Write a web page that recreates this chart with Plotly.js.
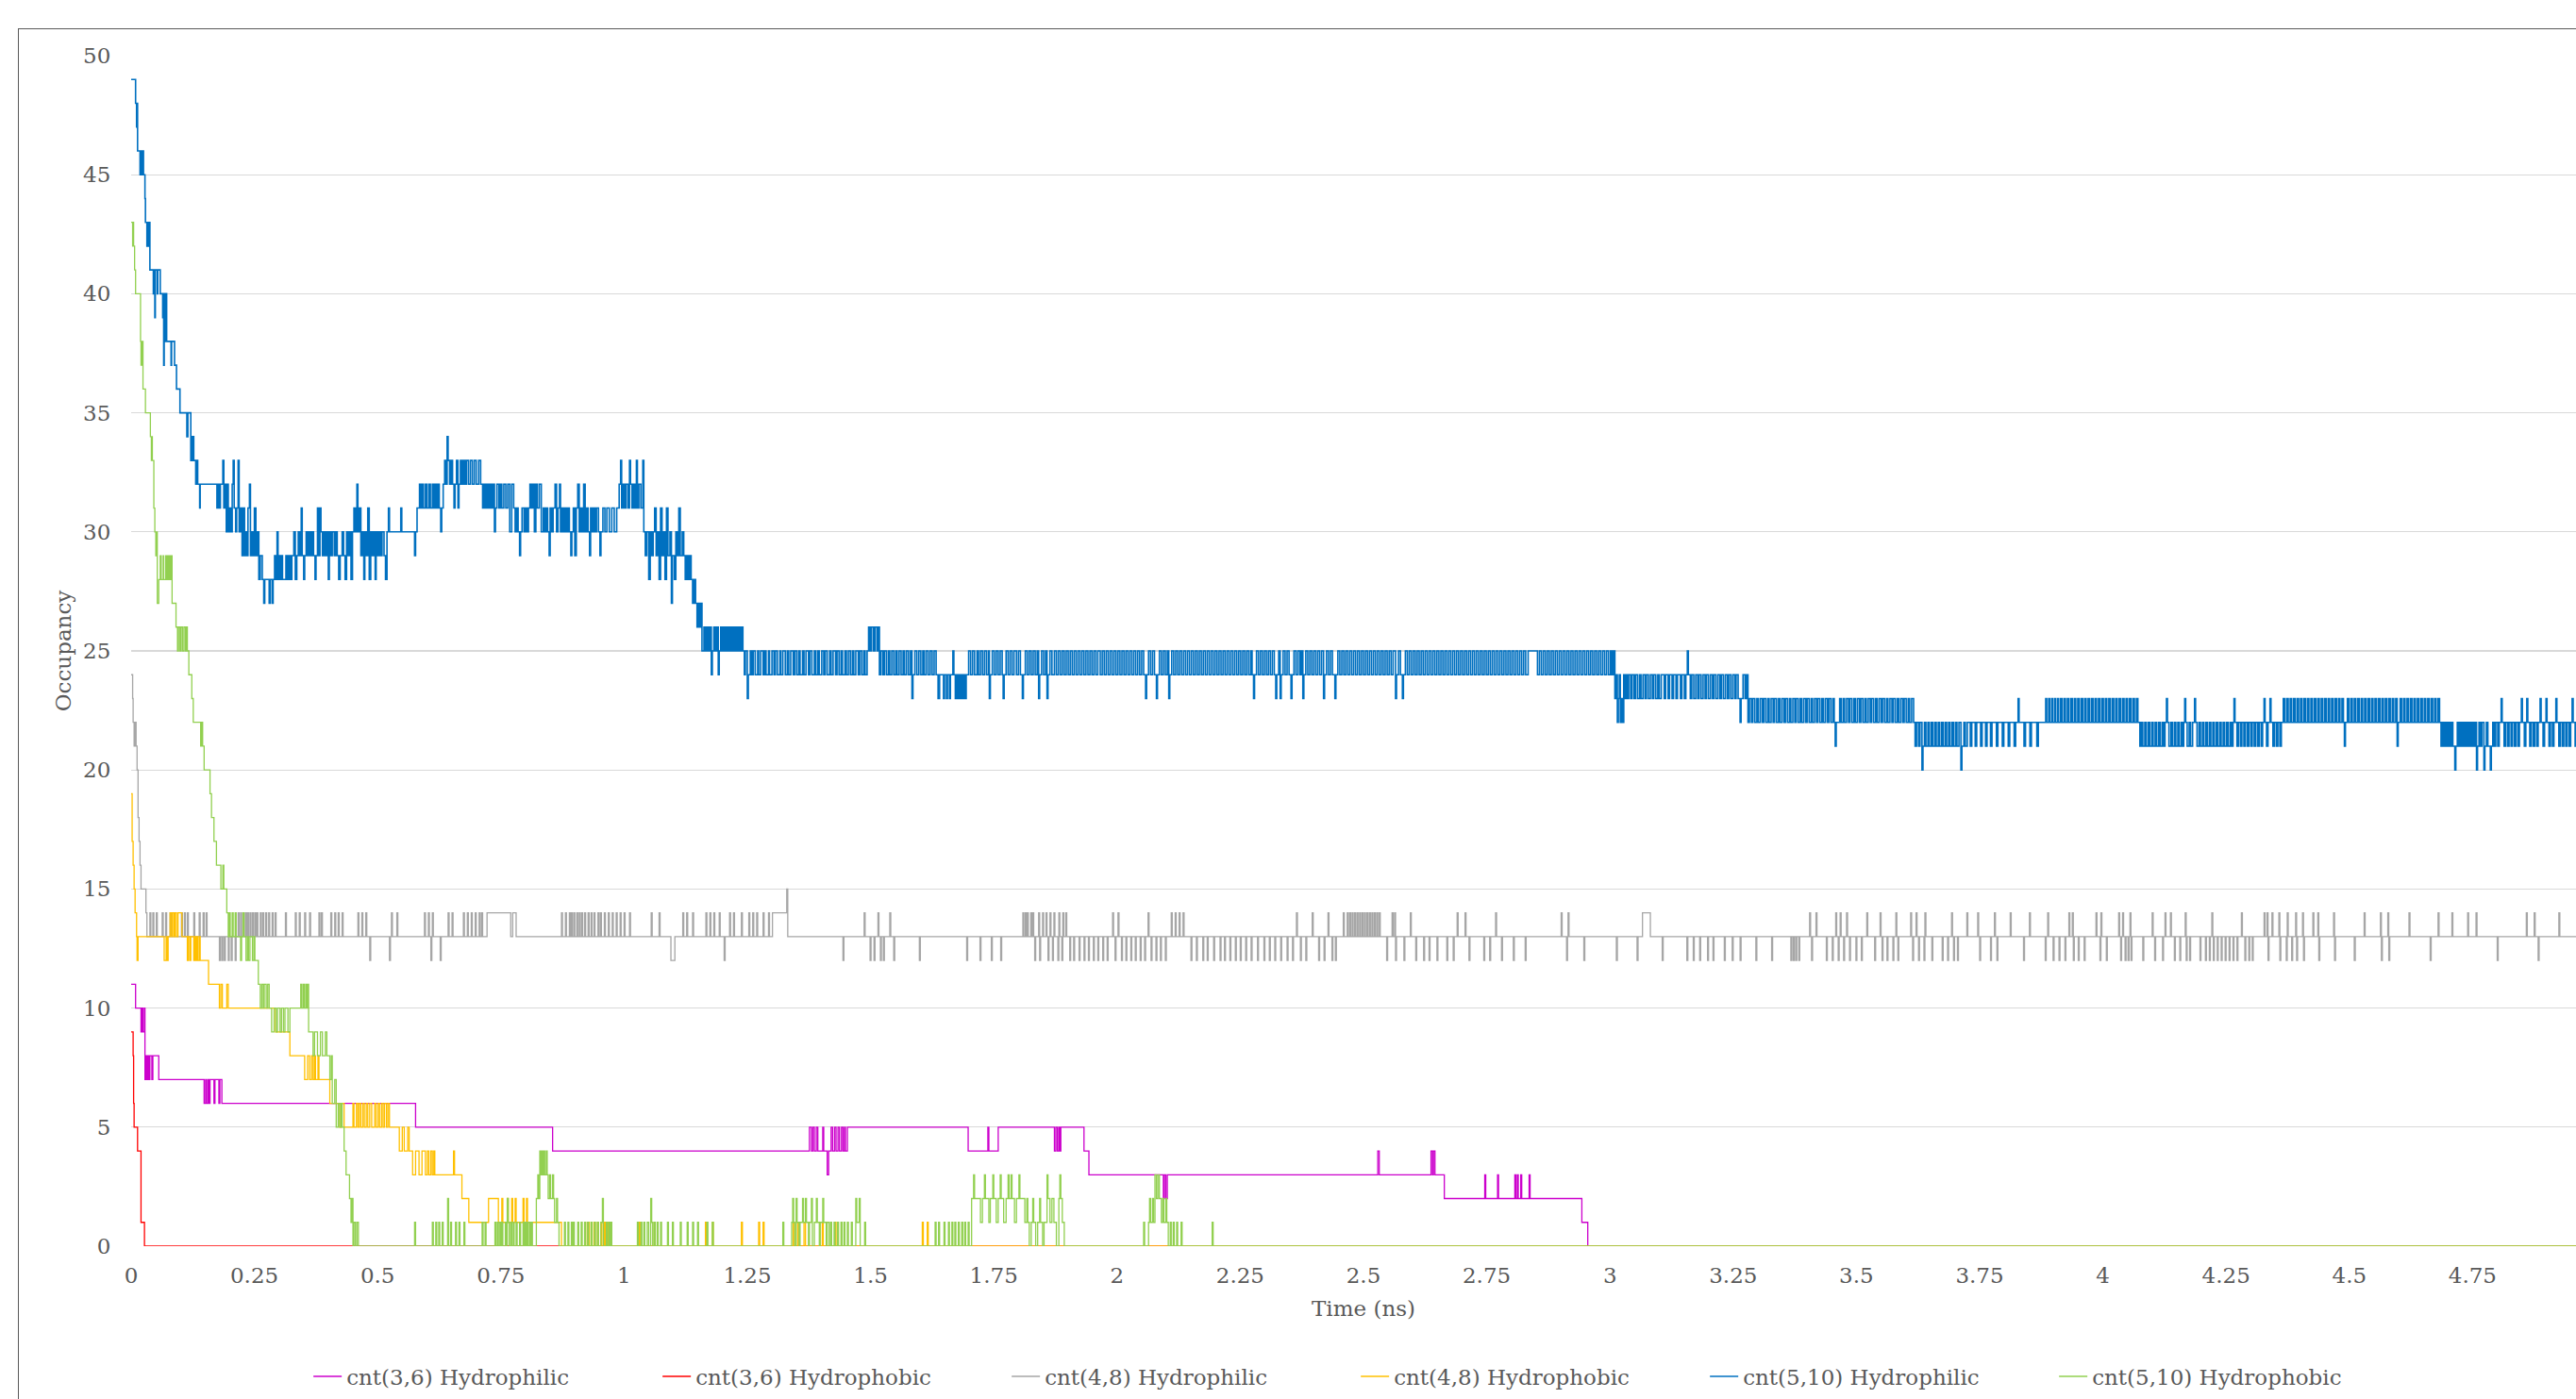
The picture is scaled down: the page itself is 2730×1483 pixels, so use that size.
<!DOCTYPE html>
<html><head><meta charset="utf-8">
<script src="https://cdn.plot.ly/plotly-3.0.1.min.js"></script>
<style>
html,body{margin:0;padding:0;overflow:hidden;background:#fff;width:2730px;height:1483px;}
#frame{position:absolute;left:19px;top:30px;width:2790px;height:1470px;border:1px solid #595959;}
#chart{width:2790px;height:1470px;}
</style></head><body>
<div id="frame"><div id="chart"></div></div>
<script>
const seriesNames = ['cnt(3,6) Hydrophilic','cnt(3,6) Hydrophobic','cnt(4,8) Hydrophilic','cnt(4,8) Hydrophobic','cnt(5,10) Hydrophilic','cnt(5,10) Hydrophobic'];
const seriesColors = ['#cc00cc','#ff0000','#a6a6a6','#ffc000','#0070c0','#92d050'];
const seriesWidths = [1.3,1.3,1.3,1.3,1.6,1.3];
const xTickVals = [0,0.25,0.5,0.75,1,1.25,1.5,1.75,2,2.25,2.5,2.75,3,3.25,3.5,3.75,4,4.25,4.5,4.75];
const xTickText = ['0','0.25','0.5','0.75','1','1.25','1.5','1.75','2','2.25','2.5','2.75','3','3.25','3.5','3.75','4','4.25','4.5','4.75'];
const yTickVals = [0,5,10,15,20,25,30,35,40,45,50];

// [time (ns), occupancy]
const cnt36Phil = [[0,11],[0.009,10],[0.020,9],[0.022,10],[0.024,9],[0.027,10],[0.028,7],[0.030,8],[0.032,7],[0.034,8],[0.036,7],[0.038,8],[0.042,7],[0.044,8],[0.056,7],[0.148,6],[0.151,7],[0.153,6],[0.156,7],[0.158,6],[0.160,7],[0.168,6],[0.170,7],[0.176,7],[0.178,6],[0.180,7],[0.184,6],[0.577,5],[0.855,4],[1.376,5],[1.380,4],[1.383,5],[1.386,4],[1.390,5],[1.393,4],[1.403,5],[1.405,4],[1.412,3],[1.415,4],[1.420,5],[1.423,4],[1.427,5],[1.430,4],[1.434,5],[1.437,4],[1.441,5],[1.444,4],[1.447,5],[1.449,4],[1.453,5],[1.698,4],[1.738,5],[1.740,4],[1.759,5],[1.873,4],[1.876,5],[1.879,4],[1.882,5],[1.884,4],[1.886,5],[1.933,4],[1.943,3],[2.094,2],[2.096,3],[2.099,2],[2.102,3],[2.529,4],[2.532,3],[2.637,4],[2.640,3],[2.642,4],[2.645,3],[2.664,2],[2.746,3],[2.748,2],[2.772,3],[2.774,2],[2.807,3],[2.809,2],[2.812,3],[2.814,2],[2.819,3],[2.821,2],[2.836,3],[2.838,2],[2.943,1],[2.955,0],[5,0]];

const cnt36Phob = [[0,9],[0.004,8],[0.005,6],[0.006,5],[0.013,4],[0.020,1],[0.027,0],[5,0]];

const cnt48Phil = [[0,24],[0.003,23],[0.004,22],[0.006,21],[0.008,22],[0.010,21],[0.012,20],[0.014,18],[0.016,17],[0.018,16],[0.020,15],[0.030,14],[0.032,13],
[0.038,14],[0.040,13],[0.044,14],[0.046,13],[0.051,14],[0.053,13],[0.063,14],[0.065,13],[0.070,14],[0.072,13],[0.079,14],[0.081,13],[0.102,14],[0.104,13],[0.108,14],[0.110,13],[0.114,14],[0.116,13],[0.127,14],[0.129,13],[0.138,14],[0.140,13],[0.146,14],[0.148,13],[0.152,14],[0.154,13],
[0.179,12],[0.181,13],[0.184,12],[0.186,13],[0.189,12],[0.191,13],[0.197,12],[0.199,13],[0.203,12],[0.205,13],[0.211,12],[0.213,13],
[0.217,14],[0.219,13],[0.222,14],[0.224,13],[0.227,14],[0.229,13],[0.232,14],[0.234,13],[0.236,14],[0.238,13],[0.241,14],[0.243,13],[0.246,14],[0.248,13],[0.251,14],[0.253,13],[0.255,14],[0.257,13],[0.262,14],[0.264,13],[0.267,14],[0.269,13],[0.273,14],[0.275,13],[0.279,14],[0.281,13],[0.286,14],[0.288,13],[0.292,14],[0.294,13],
[0.313,14],[0.315,13],[0.333,14],[0.335,13],[0.341,14],[0.343,13],[0.352,14],[0.354,13],[0.362,14],[0.364,13],[0.381,14],[0.383,13],[0.386,14],[0.388,13],[0.405,14],[0.407,13],[0.413,14],[0.415,13],[0.420,14],[0.422,13],[0.428,14],[0.430,13],[0.460,14],[0.462,13],[0.468,14],[0.470,13],[0.476,14],[0.478,13],[0.484,12],[0.486,13],[0.524,12],[0.526,13],[0.528,14],[0.530,13],[0.539,14],[0.541,13],[0.595,14],[0.597,13],[0.603,14],[0.605,13],[0.608,12],[0.610,13],[0.611,14],[0.613,13],[0.627,12],[0.629,13],[0.643,14],[0.645,13],[0.651,14],[0.653,13],[0.674,14],[0.676,13],[0.682,14],[0.684,13],[0.690,14],[0.692,13],[0.698,14],[0.700,13],[0.706,14],[0.708,13],[0.711,14],[0.713,13],[0.722,14],[0.770,13],[0.774,14],[0.781,13],
[0.873,14],[0.875,13],[0.881,14],[0.883,13],[0.889,14],[0.891,13],[0.893,14],[0.895,13],[0.898,14],[0.900,13],[0.904,14],[0.906,13],[0.909,14],[0.911,13],[0.914,14],[0.916,13],[0.920,14],[0.922,13],[0.927,14],[0.929,13],[0.933,14],[0.935,13],[0.939,14],[0.941,13],[0.947,14],[0.949,13],[0.952,14],[0.954,13],[0.960,14],[0.962,13],[0.968,14],[0.970,13],[0.976,14],[0.978,13],[0.984,14],[0.986,13],[0.992,14],[0.994,13],[1.000,14],[1.002,13],[1.011,14],[1.013,13],[1.055,14],[1.057,13],[1.071,14],[1.073,13],[1.095,12],[1.103,13],[1.119,14],[1.121,13],[1.127,14],[1.129,13],[1.139,14],[1.141,13],[1.166,14],[1.168,13],[1.174,14],[1.176,13],[1.182,14],[1.184,13],[1.193,14],[1.195,13],[1.203,12],[1.205,13],[1.214,14],[1.216,13],[1.222,14],[1.224,13],[1.238,14],[1.240,13],[1.253,14],[1.255,13],[1.261,14],[1.263,13],[1.269,14],[1.271,13],[1.282,14],[1.284,13],[1.293,14],[1.295,13],[1.301,14],[1.330,15],[1.332,13],
[1.444,12],[1.446,13],[1.487,14],[1.489,13],[1.499,12],[1.501,13],[1.507,12],[1.509,13],[1.515,14],[1.517,13],[1.520,12],[1.522,13],[1.526,12],[1.528,13],[1.539,14],[1.541,13],[1.547,12],[1.549,13],[1.599,12],[1.601,13],[1.695,12],[1.697,13],[1.722,12],[1.724,13],[1.745,12],[1.747,13],[1.764,12],[1.766,13],
[1.809,14],[1.811,13],[1.814,14],[1.816,13],[1.818,14],[1.820,13],[1.825,14],[1.827,13],[1.829,14],[1.831,13],[1.833,12],[1.835,13],[1.841,14],[1.843,12],[1.845,13],[1.849,14],[1.851,13],[1.856,14],[1.858,13],[1.860,12],[1.862,13],[1.864,14],[1.866,13],[1.869,12],[1.871,13],[1.872,14],[1.874,13],[1.880,12],[1.882,14],[1.884,13],[1.888,12],[1.890,14],[1.892,13],[1.896,14],[1.898,13],[1.904,12],[1.906,13],
[1.912,12],[1.914,13],[1.923,12],[1.925,13],[1.933,12],[1.935,13],[1.942,12],[1.944,13],[1.952,12],[1.954,13],[1.961,12],[1.963,13],[1.971,12],[1.973,13],[1.980,12],[1.982,13],[1.991,14],[1.993,13],[1.996,12],[1.998,13],[2.002,14],[2.004,13],[2.009,12],[2.011,13],[2.018,12],[2.020,13],[2.028,12],[2.030,13],[2.037,12],[2.039,13],[2.047,12],[2.049,13],[2.056,12],[2.058,13],[2.063,14],[2.065,13],[2.069,12],[2.071,13],[2.079,12],[2.081,13],[2.088,12],[2.090,13],[2.098,12],[2.100,13],[2.110,14],[2.112,13],[2.118,14],[2.120,13],[2.126,14],[2.128,13],[2.134,14],[2.136,13],[2.150,12],[2.152,13],[2.161,12],[2.163,13],[2.174,12],[2.176,13],[2.183,12],[2.185,13],[2.196,12],[2.198,13],[2.209,12],[2.211,13],[2.218,12],[2.220,13],[2.229,12],[2.231,13],[2.240,12],[2.242,13],[2.250,12],[2.252,13],[2.261,12],[2.263,13],[2.272,12],[2.274,13],[2.285,12],[2.287,13],[2.298,12],[2.300,13],[2.309,12],[2.311,13],[2.320,12],[2.322,13],[2.332,12],[2.334,13],[2.345,12],[2.347,13],[2.356,12],[2.358,13],[2.364,14],[2.366,13],[2.372,12],[2.374,13],[2.383,12],[2.385,13],[2.396,14],[2.398,13],[2.409,12],[2.411,13],[2.420,12],[2.422,13],[2.428,14],[2.430,13],[2.436,12],[2.438,13],[2.443,12],[2.445,13],[2.459,14],[2.461,13],[2.467,14],[2.469,13],
[2.472,14],[2.474,13],[2.477,14],[2.479,13],[2.482,14],[2.484,13],[2.487,14],[2.489,13],[2.492,14],[2.494,13],[2.497,14],[2.499,13],[2.502,14],[2.504,13],[2.507,14],[2.509,13],[2.512,14],[2.514,13],[2.517,14],[2.519,13],[2.522,14],[2.524,13],[2.527,14],[2.529,13],[2.532,14],[2.534,13],
[2.547,12],[2.549,13],[2.558,14],[2.560,13],[2.563,14],[2.565,12],[2.567,13],[2.582,12],[2.584,13],[2.595,14],[2.597,13],[2.606,12],[2.608,13],[2.622,12],[2.624,13],[2.633,12],[2.635,13],[2.649,12],[2.651,13],[2.669,12],[2.671,13],[2.682,12],[2.684,13],[2.690,14],[2.692,13],[2.706,14],[2.708,13],[2.714,12],[2.716,13],[2.744,12],[2.746,13],[2.756,12],[2.758,13],[2.768,14],[2.770,13],[2.780,12],[2.782,13],[2.804,12],[2.806,13],[2.828,12],[2.830,13],[2.901,14],[2.903,13],[2.912,12],[2.914,13],[2.915,14],[2.917,13],[2.947,12],[2.949,13],[3.013,12],[3.015,13],[3.055,12],[3.057,13],[3.066,14],[3.082,13],[3.106,12],[3.108,13],[3.156,12],[3.158,13],[3.169,12],[3.171,13],[3.182,12],[3.184,13],[3.198,12],[3.200,13],[3.209,12],[3.211,13],[3.232,12],[3.234,13],[3.248,12],[3.250,13],[3.264,12],[3.266,13],[3.296,12],[3.298,13],[3.328,12],[3.330,13],[3.367,12],[3.369,13],[3.372,12],[3.374,13],[3.377,12],[3.379,13],[3.383,12],[3.385,13],[3.405,14],[3.407,13],[3.409,12],[3.411,13],[3.418,14],[3.420,13],[3.439,12],[3.441,13],[3.451,12],[3.453,13],[3.458,14],[3.460,13],[3.463,12],[3.465,13],[3.467,14],[3.469,13],[3.474,12],[3.476,13],[3.480,14],[3.482,13],[3.486,12],[3.488,13],[3.499,12],[3.501,13],[3.510,12],[3.512,13],[3.521,14],[3.523,13],[3.537,12],[3.539,13],[3.548,14],[3.550,13],[3.552,12],[3.554,13],[3.562,12],[3.564,13],[3.574,12],[3.576,13],[3.580,14],[3.582,13],[3.584,12],[3.586,13],[3.610,14],[3.612,13],[3.614,12],[3.616,13],[3.621,14],[3.623,13],[3.626,12],[3.628,13],[3.637,12],[3.639,14],[3.641,13],[3.653,12],[3.655,13],[3.674,12],[3.676,13],[3.685,12],[3.687,13],[3.693,14],[3.695,13],[3.697,12],[3.699,13],[3.705,12],[3.707,13],[3.724,14],[3.726,13],[3.746,14],[3.748,13],[3.750,12],[3.752,13],[3.772,12],[3.774,13],[3.780,14],[3.782,13],[3.785,12],[3.787,13],[3.812,14],[3.814,13],[3.839,12],[3.841,13],[3.851,14],[3.853,13],[3.883,12],[3.885,13],[3.888,14],[3.890,13],[3.899,12],[3.901,13],[3.911,12],[3.913,13],[3.923,12],[3.925,13],[3.931,14],[3.933,13],[3.938,14],[3.940,12],[3.942,13],[3.950,12],[3.952,13],[3.962,12],[3.964,13],[3.986,14],[3.988,13],[3.994,12],[3.996,14],[3.998,13],[4.007,12],[4.009,13],[4.032,14],[4.034,13],[4.036,12],[4.038,13],[4.040,14],[4.042,13],[4.045,12],[4.047,13],[4.051,12],[4.053,13],[4.055,14],[4.057,12],[4.059,13],[4.081,12],[4.083,13],[4.100,14],[4.102,13],[4.105,12],[4.107,13],[4.121,12],[4.123,13],[4.126,14],[4.128,13],[4.137,14],[4.139,13],[4.145,12],[4.147,13],[4.156,12],[4.158,13],[4.167,14],[4.169,12],[4.171,13],[4.176,12],[4.178,13],[4.197,12],[4.199,13],[4.208,12],[4.210,13],[4.216,12],[4.218,13],[4.221,14],[4.223,13],[4.224,12],[4.226,13],[4.232,12],[4.234,13],[4.240,12],[4.242,13],[4.248,12],[4.250,13],[4.256,12],[4.258,13],[4.264,12],[4.266,13],[4.272,12],[4.274,13],[4.281,14],[4.283,13],[4.288,12],[4.290,13],[4.296,12],[4.298,13],[4.303,12],[4.305,13],[4.327,14],[4.329,13],[4.333,14],[4.335,12],[4.337,13],[4.343,14],[4.345,13],[4.357,14],[4.359,12],[4.361,13],[4.372,12],[4.374,14],[4.376,13],[4.383,12],[4.385,13],[4.391,14],[4.393,12],[4.395,13],[4.405,14],[4.407,12],[4.409,13],[4.426,14],[4.428,13],[4.436,14],[4.438,12],[4.440,13],[4.468,14],[4.470,12],[4.472,13],[4.510,12],[4.512,13],[4.530,14],[4.532,13],[4.563,14],[4.565,12],[4.567,13],[4.578,14],[4.580,12],[4.582,13],[4.621,14],[4.623,13],[4.664,12],[4.666,13],[4.680,14],[4.682,13],[4.708,14],[4.710,13],[4.740,14],[4.742,13],[4.757,14],[4.759,13],[4.800,12],[4.802,13],[4.859,14],[4.861,13],[4.875,14],[4.877,13],[4.883,12],[4.885,13],[4.925,14],[4.927,13],[4.965,14],[4.967,13],[4.985,12],[4.987,13],[5,13]];

const cnt48Phob = [[0,19],[0.002,17],[0.004,16],[0.006,15],[0.008,14],[0.011,13],[0.012,12],[0.014,13],[0.067,12],[0.071,13],[0.073,12],[0.075,13],[0.079,14],[0.082,13],[0.084,14],[0.087,13],[0.089,14],[0.092,13],[0.095,14],[0.103,13],[0.114,12],[0.116,13],[0.119,12],[0.121,13],[0.127,12],[0.129,13],[0.131,12],[0.133,13],[0.135,12],[0.138,13],[0.140,12],[0.157,11],[0.179,10],[0.182,11],[0.185,10],[0.194,11],[0.197,10],[0.293,9],[0.322,8],[0.352,7],[0.358,8],[0.362,7],[0.366,8],[0.369,7],[0.372,8],[0.374,7],[0.379,8],[0.381,7],[0.403,6],[0.423,5],[0.427,6],[0.432,5],[0.450,6],[0.452,5],[0.457,6],[0.460,5],[0.463,6],[0.466,5],[0.470,6],[0.473,5],[0.477,6],[0.480,5],[0.484,6],[0.488,5],[0.494,6],[0.497,5],[0.501,6],[0.504,5],[0.508,6],[0.511,5],[0.514,6],[0.518,5],[0.521,6],[0.524,5],[0.544,4],[0.550,5],[0.554,4],[0.561,5],[0.564,4],[0.571,3],[0.577,4],[0.584,3],[0.590,4],[0.597,3],[0.601,4],[0.604,3],[0.608,4],[0.611,3],[0.614,4],[0.616,3],[0.654,4],[0.656,3],[0.671,2],[0.685,1],[0.725,2],[0.745,1],[0.752,2],[0.754,1],[0.763,2],[0.765,1],[0.772,2],[0.774,1],[0.779,2],[0.781,1],[0.795,2],[0.797,1],[0.802,2],[0.804,1],[0.873,0],[0.920,1],[0.922,0],[0.926,1],[0.929,0],[0.933,1],[0.935,0],[0.939,1],[0.941,0],[0.946,1],[0.948,0],[0.953,1],[0.955,0],[0.960,1],[0.962,0],[0.966,1],[0.968,0],[1.031,1],[1.033,0],[1.061,1],[1.063,0],[1.165,1],[1.167,0],[1.179,1],[1.181,0],[1.238,1],[1.240,0],[1.273,1],[1.275,0],[1.282,1],[1.284,0],[1.343,1],[1.346,0],[1.352,1],[1.355,0],[1.365,1],[1.368,0],[1.402,1],[1.404,0],[1.428,1],[1.430,0],[1.605,1],[1.607,0],[1.615,1],[1.617,0],[5,0]];

const cnt510Phil = [[0,49],[0.009,48],[0.011,47],[0.012,48],[0.013,46],[0.018,45],[0.019,46],[0.021,45],[0.022,46],[0.025,45],[0.028,44],[0.029,43],[0.032,42],[0.033,43],[0.035,42],[0.036,43],[0.038,41],[0.045,40],[0.046,41],[0.048,39],[0.049,41],[0.053,40],[0.054,41],[0.059,40],[0.064,39],[0.065,40],[0.066,37],[0.067,40],[0.069,38],[0.070,40],[0.072,38],[0.081,37],[0.082,38],[0.088,37],[0.092,36],[0.099,35],[0.113,34],[0.115,35],[0.121,33],[0.122,34],[0.124,33],[0.125,34],[0.127,33],[0.131,32],[0.132,33],[0.135,32],[0.139,31],[0.140,32],
[0.174,31],[0.176,32],[0.179,31],[0.181,32],[0.186,33],[0.188,31],[0.190,32],[0.193,30],[0.195,32],[0.197,30],[0.200,31],[0.202,30],[0.205,32],[0.207,33],[0.209,31],[0.212,30],[0.214,31],[0.217,33],[0.219,30],[0.222,31],[0.225,29],[0.227,31],[0.230,29],[0.232,30],[0.235,29],[0.237,31],[0.240,32],[0.242,29],[0.245,30],[0.248,29],[0.250,31],[0.253,29],[0.256,30],[0.259,28],
[0.262,29],[0.266,28],[0.269,27],[0.271,28],[0.280,27],[0.282,28],[0.286,27],[0.288,28],[0.291,29],[0.293,28],[0.296,30],[0.298,28],[0.300,29],[0.302,28],[0.305,29],[0.307,28],[0.314,29],[0.317,28],[0.320,29],[0.323,28],[0.326,29],[0.330,30],[0.333,28],[0.336,29],[0.339,30],[0.342,29],[0.345,31],[0.347,29],[0.350,28],[0.352,29],[0.355,30],[0.358,29],[0.361,30],[0.364,29],[0.367,30],[0.370,29],[0.373,28],[0.375,29],[0.378,31],[0.380,29],[0.383,31],[0.385,30],[0.388,29],[0.391,30],[0.394,29],[0.397,30],[0.400,28],[0.402,30],[0.405,29],[0.408,30],[0.412,29],[0.415,30],[0.418,29],[0.421,28],[0.424,29],[0.428,30],[0.431,29],[0.434,28],[0.437,30],[0.440,29],[0.443,30],[0.446,28],[0.449,30],[0.452,31],[0.455,30],[0.458,32],[0.460,30],[0.463,31],[0.466,29],[0.469,30],[0.472,28],[0.474,30],[0.477,29],[0.480,31],[0.483,28],[0.486,30],[0.489,29],[0.492,30],[0.495,28],[0.497,30],[0.500,29],[0.503,30],[0.506,29],[0.509,30],[0.513,29],[0.516,28],[0.519,30],[0.522,31],[0.524,30],[0.547,31],[0.549,30],[0.575,29],[0.577,30],[0.580,31],
[0.585,32],[0.587,31],[0.590,32],[0.593,31],[0.597,32],[0.600,31],[0.604,32],[0.607,31],[0.611,32],[0.613,31],[0.616,32],[0.619,31],[0.622,32],[0.625,31],[0.628,30],[0.630,31],[0.633,32],[0.636,33],[0.639,32],[0.641,34],[0.643,33],[0.646,32],[0.649,33],[0.652,32],[0.655,31],[0.657,32],[0.660,33],[0.663,31],[0.665,32],[0.668,33],[0.671,32],[0.674,33],[0.677,32],[0.680,33],[0.684,32],[0.688,33],[0.692,32],[0.696,33],[0.700,32],[0.705,33],[0.709,32],
[0.713,31],[0.716,32],[0.719,31],[0.722,32],[0.725,31],[0.728,32],[0.731,31],[0.734,32],[0.737,30],[0.739,31],[0.742,32],[0.746,31],[0.749,32],[0.752,31],[0.756,32],[0.760,31],[0.764,32],[0.768,30],[0.772,32],[0.776,31],[0.779,30],[0.782,31],[0.785,30],[0.788,29],[0.790,30],[0.793,31],[0.797,30],[0.800,31],[0.803,30],[0.806,31],[0.809,32],[0.812,31],[0.815,32],[0.818,30],[0.821,32],[0.824,31],[0.828,32],[0.832,30],[0.836,31],[0.839,30],[0.842,31],[0.845,30],[0.848,29],[0.850,31],[0.853,30],[0.856,31],[0.860,32],[0.863,30],[0.866,31],[0.869,32],[0.871,30],[0.874,31],[0.877,30],[0.880,31],[0.883,30],[0.886,31],[0.889,30],[0.892,29],[0.894,30],[0.897,31],[0.900,29],[0.903,31],[0.906,32],[0.909,30],[0.912,31],[0.915,30],[0.918,32],[0.921,30],[0.924,31],[0.927,30],[0.930,29],[0.932,31],[0.935,30],[0.938,31],[0.941,30],[0.944,31],[0.948,30],[0.951,29],[0.953,30],[0.957,31],[0.961,30],[0.965,31],[0.970,30],[0.975,31],[0.980,30],[0.985,31],
[0.990,32],[0.993,33],[0.995,31],[0.998,32],[1.001,31],[1.004,32],[1.008,31],[1.011,33],[1.013,32],[1.016,31],[1.019,32],[1.022,31],[1.025,33],[1.027,31],[1.030,32],[1.034,31],[1.038,33],[1.040,30],
[1.043,29],[1.046,30],[1.050,28],[1.053,30],[1.056,29],[1.059,30],[1.062,31],[1.065,29],[1.068,30],[1.071,28],[1.074,31],[1.077,29],[1.080,30],[1.083,28],[1.086,31],[1.089,29],[1.093,30],[1.096,27],[1.098,29],[1.102,28],[1.105,30],[1.108,29],[1.111,31],[1.114,29],[1.118,30],[1.121,29],[1.124,28],[1.127,29],[1.130,28],[1.133,29],[1.136,28],[1.139,27],[1.142,28],[1.145,27],[1.148,26],[1.150,27],[1.153,26],[1.155,27],[1.158,25],
[1.162,26],[1.165,25],[1.168,26],[1.171,25],[1.174,26],[1.177,24],[1.179,25],[1.182,26],[1.185,25],[1.188,26],[1.191,24],[1.193,25],[1.196,26],[1.199,25],[1.202,26],[1.205,25],[1.208,26],[1.211,25],[1.214,26],[1.217,25],[1.220,26],[1.223,25],[1.226,26],[1.229,25],[1.232,26],[1.235,25],[1.238,26],[1.241,25],[1.244,24],[1.246,25],[1.250,23],[1.252,24],
[1.256,25],[1.259,24],[1.262,25],[1.266,24],[1.271,25],[1.273,24],[1.277,25],[1.282,24],[1.285,25],[1.288,24],[1.293,25],[1.295,24],[1.300,25],[1.304,24],[1.307,25],[1.311,24],[1.316,25],[1.318,24],[1.322,25],[1.327,24],[1.331,25],[1.334,24],[1.338,25],[1.343,24],[1.346,25],[1.350,24],[1.354,25],[1.357,24],[1.362,25],[1.365,24],[1.369,25],[1.374,24],[1.377,25],[1.381,24],[1.386,25],[1.389,24],[1.393,25],[1.396,24],[1.401,25],[1.405,24],[1.408,25],[1.412,24],[1.417,25],[1.420,24],[1.424,25],[1.429,24],[1.432,25],[1.436,24],[1.440,25],[1.443,24],[1.448,25],[1.451,24],[1.455,25],[1.459,24],[1.463,25],[1.466,24],[1.470,25],[1.475,24],[1.478,25],[1.482,24],[1.486,25],[1.489,24],[1.493,25],
[1.496,26],[1.499,25],[1.502,26],[1.506,25],[1.509,26],[1.513,25],[1.516,26],[1.518,24],
[1.521,25],[1.525,24],[1.528,25],[1.532,24],[1.536,25],[1.539,24],[1.543,25],[1.547,24],[1.551,25],[1.554,24],[1.558,25],[1.562,24],[1.566,25],[1.569,24],[1.573,25],[1.577,24],[1.581,25],[1.584,23],[1.586,24],[1.590,25],[1.594,24],[1.598,25],[1.602,24],[1.606,25],[1.609,24],[1.613,25],[1.617,24],[1.621,25],[1.625,24],[1.629,25],[1.633,24],
[1.637,23],[1.640,24],[1.648,23],[1.650,24],[1.654,23],[1.656,24],[1.660,23],[1.662,24],[1.667,25],[1.669,24],[1.672,23],[1.674,24],[1.677,23],[1.679,24],[1.682,23],[1.684,24],[1.687,23],[1.689,24],[1.692,23],[1.694,24],
[1.699,25],[1.703,24],[1.707,25],[1.711,24],[1.716,25],[1.719,24],[1.723,25],[1.727,24],[1.731,25],[1.735,24],[1.739,25],[1.741,23],[1.743,24],[1.747,25],[1.751,24],[1.755,25],[1.759,24],[1.763,25],[1.767,24],[1.769,23],[1.771,24],[1.775,25],[1.779,24],[1.783,25],[1.787,24],[1.791,25],[1.796,24],[1.800,25],[1.804,24],[1.808,23],[1.810,24],[1.814,25],[1.818,24],[1.822,25],[1.826,24],[1.830,25],[1.834,24],[1.838,25],[1.841,23],[1.843,24],[1.847,25],[1.851,24],[1.855,25],[1.858,23],[1.860,24],[1.864,25],[1.868,24],[1.873,25],[1.877,24],[1.881,25],[1.885,24],[1.889,25],[1.893,24],[1.897,25],[1.901,24],[1.905,25],[1.909,24],[1.913,25],[1.917,24],[1.921,25],[1.925,24],[1.929,25],[1.933,24],[1.937,25],[1.941,24],[1.945,25],[1.949,24],[1.953,25],[1.957,24],[1.961,25],[1.966,24],[1.970,25],[1.974,24],[1.978,25],[1.982,24],[1.986,25],[1.990,24],[1.994,25],[1.998,24],[2.002,25],[2.006,24],[2.010,25],[2.014,24],[2.018,25],[2.022,24],[2.026,25],[2.030,24],[2.034,25],[2.038,24],[2.042,25],[2.046,24],[2.050,25],[2.054,24],[2.058,23],[2.060,24],[2.064,25],[2.068,24],[2.072,25],[2.076,24],[2.080,23],[2.082,24],[2.086,25],[2.090,24],[2.094,25],[2.098,24],[2.102,25],[2.105,23],[2.107,24],[2.111,25],[2.115,24],[2.119,25],[2.123,24],[2.127,25],[2.131,24],[2.135,25],[2.139,24],[2.143,25],[2.147,24],[2.151,25],[2.155,24],[2.159,25],[2.163,24],[2.167,25],[2.171,24],[2.175,25],[2.179,24],[2.183,25],[2.187,24],[2.191,25],[2.195,24],[2.199,25],[2.203,24],[2.207,25],[2.211,24],[2.215,25],[2.219,24],[2.223,25],[2.227,24],[2.231,25],[2.235,24],[2.239,25],[2.243,24],[2.247,25],[2.251,24],[2.255,25],[2.259,24],[2.263,25],[2.267,24],[2.271,25],[2.274,24],[2.277,23],[2.279,24],[2.283,25],[2.287,24],[2.291,25],[2.295,24],[2.299,25],[2.303,24],[2.307,25],[2.311,24],[2.315,25],[2.319,24],[2.322,23],[2.324,24],[2.328,25],[2.331,23],[2.333,24],[2.337,25],[2.341,24],[2.345,25],[2.349,24],[2.353,23],[2.355,24],[2.359,25],[2.363,24],[2.367,25],[2.371,24],[2.374,25],[2.377,23],[2.379,24],[2.383,25],[2.387,24],[2.391,25],[2.395,24],[2.399,25],[2.403,24],[2.407,25],[2.411,24],[2.415,25],[2.419,23],[2.421,24],[2.425,25],[2.429,24],[2.433,25],[2.437,24],[2.442,23],[2.444,24],[2.448,25],[2.452,24],[2.456,25],[2.460,24],[2.464,25],[2.468,24],[2.472,25],[2.476,24],[2.480,25],[2.484,24],[2.488,25],[2.492,24],[2.496,25],[2.500,24],[2.504,25],[2.508,24],[2.512,25],[2.516,24],[2.520,25],[2.524,24],[2.528,25],[2.532,24],[2.536,25],[2.540,24],[2.544,25],[2.548,24],[2.552,25],[2.556,24],[2.560,25],[2.565,23],[2.567,24],[2.571,25],[2.575,24],[2.579,23],[2.581,24],[2.585,25],[2.589,24],[2.593,25],[2.597,24],[2.601,25],[2.605,24],[2.609,25],[2.613,24],[2.617,25],[2.621,24],[2.625,25],[2.629,24],[2.633,25],[2.637,24],[2.641,25],[2.645,24],[2.649,25],[2.653,24],[2.657,25],[2.661,24],[2.665,25],[2.669,24],[2.673,25],[2.677,24],[2.681,25],[2.685,24],[2.689,25],[2.693,24],[2.697,25],[2.701,24],[2.705,25],[2.709,24],[2.713,25],[2.717,24],[2.721,25],[2.725,24],[2.729,25],[2.733,24],[2.737,25],[2.741,24],[2.745,25],[2.749,24],[2.753,25],[2.757,24],[2.761,25],[2.765,24],[2.769,25],[2.773,24],[2.777,25],[2.781,24],[2.785,25],[2.789,24],[2.793,25],[2.797,24],[2.801,25],[2.805,24],[2.809,25],[2.813,24],[2.817,25],[2.821,24],[2.825,25],[2.829,24],[2.834,25],[2.853,24],[2.857,25],[2.861,24],[2.865,25],[2.869,24],[2.873,25],[2.877,24],[2.881,25],[2.885,24],[2.889,25],[2.893,24],[2.897,25],[2.901,24],[2.905,25],[2.909,24],[2.913,25],[2.917,24],[2.921,25],[2.925,24],[2.929,25],[2.933,24],[2.937,25],[2.941,24],[2.945,25],[2.949,24],[2.953,25],[2.957,24],[2.961,25],[2.965,24],[2.969,25],[2.973,24],[2.977,25],[2.981,24],[2.985,25],[2.989,24],[2.993,25],[2.997,24],
[3.001,25],[3.004,24],[3.007,25],[3.010,23],[3.013,24],[3.015,22],[3.017,23],[3.019,24],[3.021,22],[3.023,23],[3.026,22],[3.028,24],[3.030,23],[3.032,24],
[3.035,23],[3.038,24],[3.042,23],[3.045,24],[3.049,23],[3.052,24],[3.056,23],[3.060,24],[3.063,23],[3.067,24],[3.071,23],[3.074,24],[3.078,23],[3.082,24],[3.086,23],[3.089,24],[3.093,23],[3.097,24],[3.100,23],[3.104,24],[3.110,23],[3.113,24],[3.118,23],[3.121,24],[3.126,23],[3.129,24],[3.134,23],[3.137,24],[3.143,23],[3.146,24],[3.151,23],[3.154,24],[3.157,25],[3.159,24],[3.163,23],[3.166,24],[3.170,23],[3.174,24],[3.178,23],[3.181,24],[3.185,23],[3.189,24],[3.193,23],[3.196,24],[3.200,23],[3.204,24],[3.208,23],[3.211,24],[3.215,23],[3.219,24],[3.223,23],[3.226,24],[3.230,23],[3.234,24],[3.238,23],[3.241,24],[3.245,23],[3.249,24],[3.253,23],[3.256,24],[3.260,23],[3.264,22],[3.266,23],[3.270,24],[3.274,23],[3.277,24],[3.280,22],
[3.283,23],[3.287,22],[3.290,23],[3.294,22],[3.298,23],[3.301,22],[3.305,23],[3.309,22],[3.312,23],[3.316,22],[3.320,23],[3.323,22],[3.327,23],[3.331,22],[3.334,23],[3.338,22],[3.342,23],[3.345,22],[3.349,23],[3.353,22],[3.356,23],[3.360,22],[3.364,23],[3.367,22],[3.371,23],[3.375,22],[3.378,23],[3.382,22],[3.386,23],[3.389,22],[3.393,23],[3.397,22],[3.400,23],[3.404,22],[3.408,23],[3.411,22],[3.415,23],[3.419,22],[3.422,23],[3.426,22],[3.430,23],[3.433,22],[3.437,23],[3.441,22],[3.444,23],[3.448,22],[3.452,23],[3.455,22],[3.457,21],[3.459,22],[3.466,23],[3.469,22],[3.473,23],[3.476,22],[3.480,23],[3.484,22],[3.487,23],[3.491,22],[3.495,23],[3.498,22],[3.502,23],[3.506,22],[3.509,23],[3.513,22],[3.517,23],[3.520,22],[3.524,23],[3.528,22],[3.531,23],[3.535,22],[3.539,23],[3.542,22],[3.546,23],[3.550,22],[3.553,23],[3.557,22],[3.561,23],[3.564,22],[3.568,23],[3.572,22],[3.575,23],[3.579,22],[3.583,23],[3.586,22],[3.590,23],[3.594,22],[3.597,23],[3.601,22],[3.605,23],[3.608,22],[3.612,23],[3.616,22],
[3.619,21],[3.622,22],[3.626,21],[3.629,22],[3.633,20],[3.635,21],[3.638,22],[3.641,21],[3.645,22],[3.648,21],[3.652,22],[3.655,21],[3.659,22],[3.662,21],[3.666,22],[3.669,21],[3.673,22],[3.676,21],[3.680,22],[3.683,21],[3.687,22],[3.690,21],[3.694,22],[3.697,21],[3.701,22],[3.704,21],[3.708,22],[3.712,20],[3.714,21],[3.718,22],[3.721,21],[3.725,22],[3.731,21],[3.734,22],[3.741,21],[3.744,22],[3.752,21],[3.755,22],[3.762,21],[3.765,22],[3.772,21],[3.775,22],[3.784,21],[3.787,22],[3.796,21],[3.799,22],[3.808,21],[3.811,22],[3.820,21],[3.823,22],[3.828,23],[3.830,22],[3.840,21],[3.843,22],[3.852,21],[3.855,22],[3.866,21],[3.869,22],[3.884,23],[3.886,22],[3.890,23],[3.892,22],[3.896,23],[3.898,22],[3.902,23],[3.904,22],[3.908,23],[3.910,22],
[3.914,23],[3.917,22],[3.921,23],[3.924,22],[3.928,23],[3.931,22],[3.935,23],[3.938,22],[3.942,23],[3.945,22],[3.949,23],[3.952,22],[3.956,23],[3.959,22],[3.963,23],[3.966,22],[3.970,23],[3.973,22],[3.977,23],[3.980,22],[3.984,23],[3.987,22],[3.991,23],[3.994,22],[3.998,23],[4.001,22],[4.005,23],[4.008,22],[4.012,23],[4.015,22],[4.019,23],[4.022,22],[4.026,23],[4.029,22],[4.033,23],[4.036,22],[4.040,23],[4.043,22],[4.047,23],[4.050,22],[4.054,23],[4.057,22],[4.061,23],[4.064,22],[4.068,23],[4.071,22],[4.075,21],
[4.078,22],[4.081,21],[4.085,22],[4.088,21],[4.092,22],[4.095,21],[4.099,22],[4.102,21],[4.106,22],[4.109,21],[4.113,22],[4.116,21],[4.120,22],[4.123,21],[4.126,22],[4.129,23],[4.131,22],[4.134,21],[4.138,22],[4.141,21],[4.145,22],[4.148,21],[4.152,22],[4.155,21],[4.159,22],[4.162,21],[4.164,22],[4.166,23],[4.168,22],[4.171,21],[4.175,22],[4.178,21],[4.182,22],[4.186,23],[4.188,22],[4.191,21],[4.195,22],[4.198,21],[4.202,22],[4.205,21],[4.209,22],[4.212,21],[4.216,22],[4.219,21],[4.223,22],[4.226,21],[4.230,22],[4.233,21],[4.237,22],[4.240,21],[4.244,22],[4.247,21],[4.251,22],[4.254,21],[4.258,22],[4.261,21],[4.264,22],[4.266,23],[4.268,22],[4.272,21],[4.275,22],[4.279,21],[4.282,22],[4.286,21],[4.289,22],[4.293,21],[4.296,22],[4.300,21],[4.303,22],[4.307,21],[4.310,22],[4.314,21],[4.317,22],[4.321,21],[4.324,22],[4.327,23],[4.329,22],[4.332,21],[4.335,22],[4.339,23],[4.341,22],[4.345,21],[4.348,22],[4.352,21],[4.355,22],[4.359,21],[4.362,22],
[4.366,23],[4.369,22],[4.373,23],[4.376,22],[4.380,23],[4.383,22],[4.387,23],[4.390,22],[4.394,23],[4.397,22],[4.401,23],[4.404,22],[4.408,23],[4.411,22],[4.415,23],[4.418,22],[4.422,23],[4.425,22],[4.429,23],[4.432,22],[4.436,23],[4.439,22],[4.443,23],[4.446,22],[4.450,23],[4.453,22],[4.457,23],[4.460,22],[4.464,23],[4.467,22],[4.471,23],[4.474,22],[4.478,23],[4.481,22],[4.485,23],[4.488,22],[4.490,21],[4.492,22],[4.496,23],[4.499,22],[4.503,23],[4.506,22],[4.510,23],[4.513,22],[4.517,23],[4.520,22],[4.524,23],[4.527,22],[4.531,23],[4.534,22],[4.538,23],[4.541,22],[4.545,23],[4.548,22],[4.552,23],[4.555,22],[4.559,23],[4.562,22],[4.566,23],[4.569,22],[4.573,23],[4.576,22],[4.580,23],[4.583,22],[4.587,23],[4.590,22],[4.594,23],[4.597,21],[4.599,22],[4.603,23],[4.606,22],[4.610,23],[4.613,22],[4.617,23],[4.620,22],[4.624,23],[4.627,22],[4.631,23],[4.634,22],[4.638,23],[4.641,22],[4.645,23],[4.648,22],[4.652,23],[4.655,22],[4.659,23],[4.662,22],[4.666,23],[4.669,22],[4.673,23],[4.676,22],[4.680,23],[4.683,22],
[4.686,21],[4.689,22],[4.692,21],[4.695,22],[4.698,21],[4.701,22],[4.704,21],[4.707,22],[4.710,21],[4.714,20],[4.716,21],[4.719,22],[4.722,21],[4.725,22],[4.728,21],[4.731,22],[4.734,21],[4.737,22],[4.740,21],[4.743,22],[4.746,21],[4.749,22],[4.752,21],[4.755,22],[4.758,20],[4.760,21],[4.763,22],[4.766,21],[4.769,22],[4.773,20],[4.775,21],[4.778,22],[4.781,21],[4.786,20],[4.788,21],[4.791,22],[4.794,21],[4.797,22],
[4.801,21],[4.804,22],[4.808,23],[4.810,22],[4.814,21],[4.817,22],[4.821,21],[4.824,22],[4.828,21],[4.831,22],[4.835,21],[4.838,22],[4.842,21],[4.845,22],[4.849,23],[4.851,22],[4.855,21],[4.858,22],[4.860,23],[4.862,22],[4.866,21],[4.869,22],[4.873,21],[4.876,22],[4.880,21],[4.883,22],[4.887,23],[4.889,22],[4.893,21],[4.896,22],[4.899,23],[4.901,22],[4.905,21],[4.908,22],[4.912,21],[4.915,22],[4.919,23],[4.921,22],[4.925,21],[4.928,22],[4.932,21],[4.935,22],[4.939,21],[4.942,22],[4.946,21],[4.949,22],[4.952,23],[4.954,22],[4.958,21],[4.961,22],[4.965,21],[4.968,22],[4.972,23],[4.974,22],[4.978,21],[4.981,22],[4.985,21],[4.988,22],[4.992,21],[4.995,22],[5,22]];

const cnt510Phob = [[0,43],[0.003,42],[0.004,43],[0.005,42],[0.007,41],[0.009,40],[0.019,38],[0.020,37],[0.022,38],[0.024,36],[0.029,35],[0.039,34],[0.041,33],[0.042,34],[0.043,33],[0.046,31],[0.048,30],[0.050,29],[0.051,30],[0.053,27],[0.056,28],[0.059,29],[0.061,28],[0.065,29],[0.066,28],[0.070,29],[0.071,28],[0.073,29],[0.075,28],[0.077,29],[0.079,28],[0.081,29],[0.083,27],[0.091,26],[0.094,25],[0.096,26],[0.099,25],[0.101,26],[0.104,25],[0.107,26],[0.110,25],[0.112,26],[0.114,25],[0.117,24],[0.123,23],[0.126,22],[0.141,21],[0.143,22],[0.145,21],[0.148,20],
[0.160,19],[0.163,18],[0.168,17],[0.173,16],[0.182,15],[0.186,16],[0.188,15],[0.194,14],[0.197,13],[0.199,14],[0.201,13],[0.205,14],[0.207,13],[0.211,14],[0.213,13],[0.222,12],[0.224,13],[0.227,14],[0.229,13],[0.233,12],[0.236,13],[0.238,12],[0.241,13],[0.246,12],[0.249,13],[0.251,12],[0.258,11],[0.262,10],[0.265,11],[0.268,10],[0.270,11],[0.274,10],[0.277,11],[0.280,10],[0.285,9],[0.290,10],[0.294,9],[0.297,10],[0.302,9],[0.305,10],[0.309,9],[0.312,10],[0.318,9],[0.322,10],[0.344,11],[0.346,10],[0.349,11],[0.351,10],[0.354,11],[0.356,10],[0.358,11],[0.360,9],[0.369,8],[0.372,9],[0.378,8],[0.384,9],[0.388,8],[0.394,9],[0.397,8],[0.403,7],[0.406,8],[0.408,6],[0.413,7],[0.416,5],[0.420,6],[0.423,5],[0.426,6],[0.428,5],[0.432,4],[0.436,3],[0.443,2],[0.446,1],[0.448,2],[0.450,0],[0.452,1],[0.455,0],[0.458,1],[0.461,0],
[0.575,1],[0.577,0],[0.611,1],[0.613,0],[0.618,1],[0.620,0],[0.624,1],[0.626,0],[0.631,1],[0.633,0],[0.642,2],[0.644,0],[0.648,1],[0.650,0],[0.658,1],[0.660,0],[0.665,1],[0.667,0],[0.675,1],[0.677,0],[0.712,1],[0.714,0],[0.718,1],[0.720,0],[0.738,1],[0.740,0],[0.743,1],[0.745,0],[0.748,1],[0.750,0],[0.752,1],[0.754,0],[0.759,1],[0.761,0],[0.763,2],[0.765,1],[0.767,0],[0.770,1],[0.772,0],[0.775,1],[0.777,0],[0.781,1],[0.783,0],[0.788,1],[0.790,0],[0.795,1],[0.797,0],[0.799,1],[0.801,0],[0.803,1],[0.805,0],[0.808,1],[0.810,0],[0.812,1],[0.814,0],
[0.822,2],[0.825,3],[0.827,2],[0.829,4],[0.831,3],[0.833,4],[0.835,3],[0.837,4],[0.839,3],[0.842,4],[0.844,3],[0.846,2],[0.849,3],[0.851,2],[0.855,3],[0.857,2],[0.859,1],[0.863,2],[0.865,1],[0.868,0],
[0.879,1],[0.881,0],[0.886,1],[0.888,0],[0.893,1],[0.895,0],[0.897,1],[0.899,0],[0.906,1],[0.908,0],[0.913,1],[0.915,0],[0.920,1],[0.922,0],[0.926,1],[0.928,0],[0.933,1],[0.935,0],[0.940,1],[0.942,0],[0.946,1],[0.948,0],[0.953,1],[0.956,2],[0.958,0],[0.964,1],[0.966,0],[0.969,1],[0.971,0],[0.973,1],[0.975,0],
[1.027,1],[1.029,0],[1.034,1],[1.036,0],[1.040,1],[1.042,0],[1.047,1],[1.050,0],[1.054,2],[1.056,1],[1.058,0],[1.061,1],[1.063,0],[1.067,1],[1.069,0],[1.074,1],[1.076,0],[1.088,1],[1.090,0],[1.098,1],[1.100,0],[1.114,1],[1.116,0],[1.128,1],[1.130,0],[1.139,1],[1.141,0],[1.149,1],[1.151,0],[1.168,1],[1.170,0],[1.179,1],[1.181,0],[1.322,1],[1.324,0],
[1.340,1],[1.342,2],[1.344,1],[1.346,0],[1.349,2],[1.351,1],[1.355,0],[1.357,1],[1.362,2],[1.364,1],[1.368,2],[1.370,1],[1.374,0],[1.376,1],[1.380,2],[1.382,0],[1.386,1],[1.390,2],[1.392,1],[1.396,0],[1.398,1],[1.403,2],[1.405,1],[1.410,0],[1.412,1],[1.416,0],[1.419,1],[1.421,0],[1.426,1],[1.428,0],[1.433,1],[1.435,0],[1.440,1],[1.442,0],[1.446,1],[1.448,0],[1.453,1],[1.455,0],[1.461,1],[1.463,0],[1.470,2],[1.472,1],[1.477,2],[1.479,0],[1.488,1],[1.490,0],
[1.631,1],[1.633,0],[1.638,1],[1.640,0],[1.649,1],[1.651,0],[1.658,1],[1.660,0],[1.665,1],[1.667,0],[1.671,1],[1.673,0],[1.678,1],[1.680,0],[1.685,1],[1.687,0],[1.691,1],[1.693,0],[1.698,1],[1.700,0],
[1.705,2],[1.709,3],[1.711,2],[1.723,1],[1.727,2],[1.731,3],[1.733,2],[1.740,1],[1.743,2],[1.748,3],[1.750,2],[1.755,1],[1.759,2],[1.763,3],[1.765,2],[1.770,1],[1.775,2],[1.779,3],[1.781,2],[1.785,3],[1.787,2],[1.792,1],[1.796,2],[1.801,3],[1.803,2],[1.813,1],[1.817,2],[1.819,1],[1.822,0],[1.826,1],[1.829,2],[1.831,1],[1.835,0],[1.839,1],[1.843,2],[1.845,1],[1.849,0],[1.852,1],[1.858,3],[1.860,2],[1.864,1],[1.868,2],[1.872,1],[1.877,0],[1.882,2],[1.884,3],[1.886,2],[1.889,1],[1.893,0],
[2.054,1],[2.056,0],[2.064,1],[2.066,2],[2.068,1],[2.072,2],[2.074,1],[2.077,3],[2.080,2],[2.083,3],[2.086,2],[2.090,1],[2.093,2],[2.095,1],[2.099,2],[2.101,1],[2.104,0],[2.108,1],[2.110,0],[2.114,1],[2.116,0],[2.121,1],[2.123,0],[2.130,1],[2.132,0],[2.193,1],[2.195,0],[5,0]];

const allSeries = [cnt36Phil, cnt36Phob, cnt48Phil, cnt48Phob, cnt510Phil, cnt510Phob];

const FONT = '"DejaVu Serif", "Liberation Serif", serif';
const traces = allSeries.map((s, i) => ({
  type: 'scatter', mode: 'lines', name: seriesNames[i],
  x: s.map(p => p[0]), y: s.map(p => p[1]),
  line: {shape: 'hv', width: seriesWidths[i], color: seriesColors[i]},
  hoverinfo: 'skip'
}));

const layout = {
  width: 2790, height: 1470,
  margin: {l: 119, r: 59, t: 28, b: 180},
  paper_bgcolor: '#ffffff', plot_bgcolor: '#ffffff',
  font: {family: FONT, size: 23, color: '#595959'},
  showlegend: true,
  legend: {orientation: 'h', x: 0.497, xanchor: 'center', y: -0.1094, yanchor: 'middle',
           entrywidth: 325, entrywidthmode: 'pixels', traceorder: 'normal',
           font: {family: FONT, size: 23, color: '#595959'}},
  xaxis: {range: [0, 5], tickmode: 'array', tickvals: xTickVals, ticktext: xTickText,
          showgrid: false, zeroline: false, showline: false,
          ticks: 'outside', ticklen: 10, tickcolor: 'rgba(0,0,0,0)',
          tickfont: {family: FONT, size: 23, color: '#595959'},
          title: {text: 'Time (ns)', font: {family: FONT, size: 23, color: '#595959'}, standoff: 15}},
  yaxis: {range: [0, 50], tickmode: 'array', tickvals: yTickVals,
          showgrid: true, gridcolor: '#d9d9d9', gridwidth: 1.2, zeroline: false, showline: false,
          ticks: 'outside', ticklen: 16, tickcolor: 'rgba(0,0,0,0)',
          tickfont: {family: FONT, size: 23, color: '#595959'},
          title: {text: 'Occupancy', font: {family: FONT, size: 23, color: '#595959'}, standoff: 6}}
};

Plotly.newPlot('chart', traces, layout, {staticPlot: true, displayModeBar: false});
</script>
</body></html>
